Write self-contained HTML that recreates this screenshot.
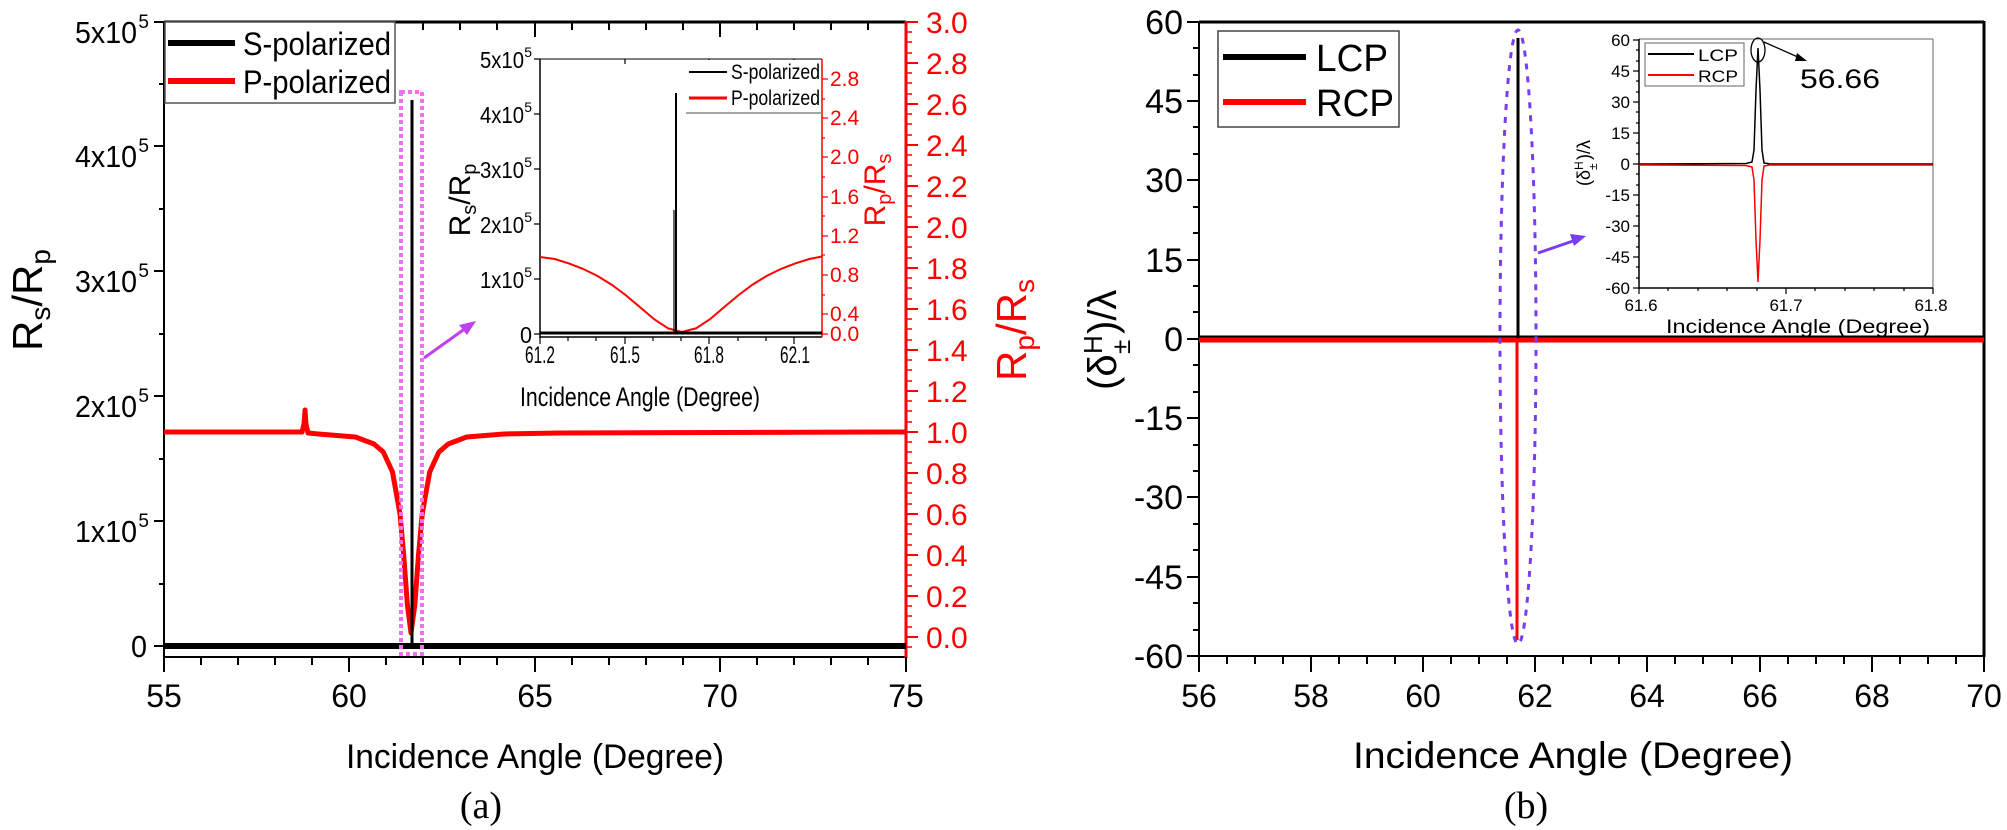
<!DOCTYPE html>
<html><head><meta charset="utf-8"><style>
html,body{margin:0;padding:0;background:#fff}
svg{display:block}
text{font-family:"Liberation Sans",Arial,sans-serif}
</style></head><body>
<svg width="2007" height="830" viewBox="0 0 2007 830" xmlns="http://www.w3.org/2000/svg">
<rect width="2007" height="830" fill="#fff"/>

<!-- ================= LEFT PANEL (a) ================= -->
<line x1="164" y1="22" x2="906" y2="22" stroke="#000" stroke-width="3"/>
<line x1="164" y1="657" x2="906" y2="657" stroke="#000" stroke-width="2"/>
<line x1="164" y1="21" x2="164" y2="658" stroke="#000" stroke-width="2"/>
<line x1="906" y1="21" x2="906" y2="658" stroke="#f00" stroke-width="3"/>
<g stroke="#000" stroke-width="2">
<line x1="164" y1="657" x2="164" y2="672"/><line x1="349" y1="657" x2="349" y2="672"/><line x1="535" y1="657" x2="535" y2="672"/><line x1="720" y1="657" x2="720" y2="672"/><line x1="906" y1="657" x2="906" y2="672"/>
<line x1="201" y1="657" x2="201" y2="665"/><line x1="238" y1="657" x2="238" y2="665"/><line x1="275" y1="657" x2="275" y2="665"/><line x1="312" y1="657" x2="312" y2="665"/>
<line x1="386" y1="657" x2="386" y2="665"/><line x1="423" y1="657" x2="423" y2="665"/><line x1="460" y1="657" x2="460" y2="665"/><line x1="497" y1="657" x2="497" y2="665"/>
<line x1="572" y1="657" x2="572" y2="665"/><line x1="609" y1="657" x2="609" y2="665"/><line x1="646" y1="657" x2="646" y2="665"/><line x1="683" y1="657" x2="683" y2="665"/>
<line x1="757" y1="657" x2="757" y2="665"/><line x1="794" y1="657" x2="794" y2="665"/><line x1="831" y1="657" x2="831" y2="665"/><line x1="868" y1="657" x2="868" y2="665"/>
<line x1="349" y1="22" x2="349" y2="37"/><line x1="535" y1="22" x2="535" y2="37"/><line x1="720" y1="22" x2="720" y2="37"/>
<line x1="201" y1="22" x2="201" y2="30"/><line x1="238" y1="22" x2="238" y2="30"/><line x1="275" y1="22" x2="275" y2="30"/><line x1="312" y1="22" x2="312" y2="30"/>
<line x1="386" y1="22" x2="386" y2="30"/><line x1="423" y1="22" x2="423" y2="30"/><line x1="460" y1="22" x2="460" y2="30"/><line x1="497" y1="22" x2="497" y2="30"/>
<line x1="572" y1="22" x2="572" y2="30"/><line x1="609" y1="22" x2="609" y2="30"/><line x1="646" y1="22" x2="646" y2="30"/><line x1="683" y1="22" x2="683" y2="30"/>
<line x1="757" y1="22" x2="757" y2="30"/><line x1="794" y1="22" x2="794" y2="30"/><line x1="831" y1="22" x2="831" y2="30"/><line x1="868" y1="22" x2="868" y2="30"/>
<line x1="154" y1="22" x2="164" y2="22"/><line x1="154" y1="146" x2="164" y2="146"/><line x1="154" y1="271" x2="164" y2="271"/><line x1="154" y1="396" x2="164" y2="396"/><line x1="154" y1="521" x2="164" y2="521"/><line x1="154" y1="646" x2="164" y2="646"/>
<line x1="159" y1="84" x2="164" y2="84"/><line x1="159" y1="209" x2="164" y2="209"/><line x1="159" y1="334" x2="164" y2="334"/><line x1="159" y1="459" x2="164" y2="459"/><line x1="159" y1="584" x2="164" y2="584"/>
</g>
<g stroke="#f00" stroke-width="2">
<line x1="906" y1="22" x2="918" y2="22"/><line x1="906" y1="63" x2="918" y2="63"/><line x1="906" y1="104" x2="918" y2="104"/><line x1="906" y1="145" x2="918" y2="145"/><line x1="906" y1="186" x2="918" y2="186"/><line x1="906" y1="227" x2="918" y2="227"/><line x1="906" y1="268" x2="918" y2="268"/><line x1="906" y1="309" x2="918" y2="309"/><line x1="906" y1="350" x2="918" y2="350"/><line x1="906" y1="391" x2="918" y2="391"/><line x1="906" y1="432" x2="918" y2="432"/><line x1="906" y1="473" x2="918" y2="473"/><line x1="906" y1="514" x2="918" y2="514"/><line x1="906" y1="555" x2="918" y2="555"/><line x1="906" y1="596" x2="918" y2="596"/><line x1="906" y1="637" x2="918" y2="637"/>
</g>
<path d="M906 32h6M906 42h6M906 53h6M906 73h6M906 83h6M906 94h6M906 114h6M906 124h6M906 135h6M906 155h6M906 165h6M906 176h6M906 196h6M906 206h6M906 217h6M906 237h6M906 247h6M906 258h6M906 278h6M906 288h6M906 299h6M906 319h6M906 329h6M906 340h6M906 360h6M906 370h6M906 381h6M906 401h6M906 411h6M906 422h6M906 442h6M906 452h6M906 463h6M906 483h6M906 493h6M906 504h6M906 524h6M906 534h6M906 545h6M906 565h6M906 575h6M906 586h6M906 606h6M906 616h6M906 627h6M906 647h6" stroke="#f00" stroke-width="1.5"/>

<g font-size="31" fill="#000" text-anchor="end">
<text x="137" y="43" textLength="62" lengthAdjust="spacingAndGlyphs">5x10</text><text x="149" y="28" font-size="19">5</text>
<text x="137" y="167" textLength="62" lengthAdjust="spacingAndGlyphs">4x10</text><text x="149" y="152" font-size="19">5</text>
<text x="137" y="292" textLength="62" lengthAdjust="spacingAndGlyphs">3x10</text><text x="149" y="277" font-size="19">5</text>
<text x="137" y="417" textLength="62" lengthAdjust="spacingAndGlyphs">2x10</text><text x="149" y="402" font-size="19">5</text>
<text x="137" y="542" textLength="62" lengthAdjust="spacingAndGlyphs">1x10</text><text x="149" y="527" font-size="19">5</text>
<text x="147" y="657" textLength="16" lengthAdjust="spacingAndGlyphs">0</text>
</g>
<g font-size="32" fill="#000" text-anchor="middle">
<text x="164" y="707">55</text><text x="349" y="707">60</text><text x="535" y="707">65</text><text x="720" y="707">70</text><text x="906" y="707">75</text>
</g>
<text x="535" y="768" font-size="34" text-anchor="middle" textLength="378" lengthAdjust="spacingAndGlyphs">Incidence Angle (Degree)</text>
<text x="481" y="818" font-size="38" text-anchor="middle" style="font-family:'Liberation Serif',serif">(a)</text>
<text transform="translate(42,300) rotate(-90)" font-size="42" text-anchor="middle">R<tspan font-size="28" dy="8">s</tspan><tspan dy="-8">/R</tspan><tspan font-size="28" dy="8">p</tspan></text>
<g font-size="30" fill="#f00">
<text x="926" y="33">3.0</text><text x="926" y="74">2.8</text><text x="926" y="115">2.6</text><text x="926" y="156">2.4</text><text x="926" y="197">2.2</text><text x="926" y="238">2.0</text><text x="926" y="279">1.8</text><text x="926" y="320">1.6</text><text x="926" y="361">1.4</text><text x="926" y="402">1.2</text><text x="926" y="443">1.0</text><text x="926" y="484">0.8</text><text x="926" y="525">0.6</text><text x="926" y="566">0.4</text><text x="926" y="607">0.2</text><text x="926" y="648">0.0</text>
</g>
<text transform="translate(1026,330) rotate(-90)" font-size="42" fill="#f00" text-anchor="middle">R<tspan font-size="28" dy="8">p</tspan><tspan dy="-8">/R</tspan><tspan font-size="28" dy="8">s</tspan></text>

<polyline fill="none" stroke="#f00" stroke-width="5" stroke-linejoin="round" points="164,432 302,432 304,424 305,410 306,424 308,433 318.3,434 355.5,437 374,444 383.3,452 392.5,472 400,514 403.7,555 407.4,605 411,633 414.8,605 418.5,555 422.2,514 429.7,472 438.9,452 448.2,444 466.7,437 503.9,434 559.5,433 906,432"/>
<line x1="164" y1="646" x2="906" y2="646" stroke="#000" stroke-width="6"/>
<line x1="412" y1="646" x2="412" y2="100" stroke="#000" stroke-width="3"/>
<rect x="401" y="92" width="21" height="562" fill="none" stroke="#f070f0" stroke-width="4" stroke-dasharray="4,3"/>
<line x1="424" y1="358" x2="466" y2="328" stroke="#c040f0" stroke-width="3"/>
<polygon points="476,321 459,325 467,335" fill="#c040f0"/>

<rect x="165" y="22" width="230" height="81" fill="#fff" stroke="#555" stroke-width="1.5"/>
<line x1="168" y1="43" x2="235" y2="43" stroke="#000" stroke-width="6"/>
<line x1="168" y1="81" x2="235" y2="81" stroke="#f00" stroke-width="6"/>
<text x="243" y="55" font-size="32" textLength="148" lengthAdjust="spacingAndGlyphs">S-polarized</text>
<text x="243" y="93" font-size="32" textLength="148" lengthAdjust="spacingAndGlyphs">P-polarized</text>

<!-- left inset -->
<rect x="540" y="59" width="282" height="278" fill="#fff"/>
<line x1="540" y1="59" x2="822" y2="59" stroke="#000" stroke-width="1"/>
<line x1="540" y1="59" x2="540" y2="338" stroke="#000" stroke-width="1.5"/>
<line x1="540" y1="337" x2="822" y2="337" stroke="#000" stroke-width="1.5"/>
<line x1="822" y1="59" x2="822" y2="337" stroke="#f00" stroke-width="1.5"/>
<g stroke="#000" stroke-width="1.2">
<path d="M540 337v7M625 337v7M709 337v7M794 337v7M568 337v4M596 337v4M653 337v4M681 337v4M738 337v4M766 337v4M540 59h-6M540 114h-6M540 169h-6M540 224h-6M540 279h-6M540 334h-6M625 59v5M709 59v5M794 59v5"/>
</g>
<g stroke="#f00" stroke-width="1.2">
<path d="M822 79h6M822 118h6M822 157h6M822 197h6M822 236h6M822 275h6M822 314h6M822 334h6M822 99h3M822 138h3M822 177h3M822 216h3M822 255h3M822 295h3"/>
</g>
<g font-size="23" text-anchor="end">
<text x="524" y="68" textLength="44" lengthAdjust="spacingAndGlyphs">5x10</text><text x="532" y="57" font-size="14">5</text>
<text x="524" y="123" textLength="44" lengthAdjust="spacingAndGlyphs">4x10</text><text x="532" y="112" font-size="14">5</text>
<text x="524" y="178" textLength="44" lengthAdjust="spacingAndGlyphs">3x10</text><text x="532" y="167" font-size="14">5</text>
<text x="524" y="233" textLength="44" lengthAdjust="spacingAndGlyphs">2x10</text><text x="532" y="222" font-size="14">5</text>
<text x="524" y="288" textLength="44" lengthAdjust="spacingAndGlyphs">1x10</text><text x="532" y="277" font-size="14">5</text>
<text x="532" y="343" textLength="12" lengthAdjust="spacingAndGlyphs">0</text>
</g>
<g font-size="24" text-anchor="middle">
<text x="540" y="363" textLength="30" lengthAdjust="spacingAndGlyphs">61.2</text><text x="625" y="363" textLength="30" lengthAdjust="spacingAndGlyphs">61.5</text><text x="709" y="363" textLength="30" lengthAdjust="spacingAndGlyphs">61.8</text><text x="795" y="363" textLength="30" lengthAdjust="spacingAndGlyphs">62.1</text>
</g>
<text x="640" y="406" font-size="27" text-anchor="middle" textLength="240" lengthAdjust="spacingAndGlyphs">Incidence Angle (Degree)</text>
<text transform="translate(470,200) rotate(-90)" font-size="30" text-anchor="middle">R<tspan font-size="20" dy="6">s</tspan><tspan dy="-6">/R</tspan><tspan font-size="20" dy="6">p</tspan></text>
<g font-size="21" fill="#f00">
<text x="830" y="86">2.8</text><text x="830" y="125">2.4</text><text x="830" y="164">2.0</text><text x="830" y="204">1.6</text><text x="830" y="243">1.2</text><text x="830" y="282">0.8</text><text x="830" y="321">0.4</text><text x="830" y="341">0.0</text>
</g>
<text transform="translate(885,190) rotate(-90)" font-size="30" fill="#f00" text-anchor="middle">R<tspan font-size="20" dy="6">p</tspan><tspan dy="-6">/R</tspan><tspan font-size="20" dy="6">s</tspan></text>
<polyline fill="none" stroke="#f00" stroke-width="2" points="540,257 554.8,259 568.9,263.4 583.1,268.9 597.3,275.9 611.5,284.6 625.7,295.1 639.8,307 654,319.1 668.2,328.4 681.7,332 695.9,328.4 710.1,319.1 724.3,307 738.5,295.1 752.6,284.6 766.8,275.9 781,268.9 795.2,263.4 809.4,259 822,256.5"/>
<line x1="540" y1="333" x2="822" y2="333" stroke="#000" stroke-width="3"/>
<line x1="676" y1="333" x2="676" y2="93" stroke="#000" stroke-width="2"/>
<line x1="674" y1="333" x2="674" y2="210" stroke="#000" stroke-width="1.2"/>
<rect x="686" y="60" width="135" height="53" fill="#fff"/>
<line x1="686" y1="113" x2="821" y2="113" stroke="#888" stroke-width="1.5"/>
<line x1="689" y1="72" x2="727" y2="72" stroke="#000" stroke-width="2"/>
<line x1="689" y1="98" x2="727" y2="98" stroke="#f00" stroke-width="3"/>
<text x="731" y="79" font-size="21" textLength="89" lengthAdjust="spacingAndGlyphs">S-polarized</text>
<text x="731" y="105" font-size="21" textLength="89" lengthAdjust="spacingAndGlyphs">P-polarized</text>

<!-- ================= RIGHT PANEL (b) ================= -->
<line x1="1199" y1="22" x2="1984" y2="22" stroke="#000" stroke-width="3"/>
<line x1="1199" y1="656" x2="1984" y2="656" stroke="#000" stroke-width="2"/>
<line x1="1199" y1="21" x2="1199" y2="657" stroke="#000" stroke-width="2"/>
<line x1="1984" y1="21" x2="1984" y2="657" stroke="#000" stroke-width="3"/>
<g stroke="#000" stroke-width="2">
<path d="M1199 656v16M1311 656v16M1423 656v16M1535 656v16M1647 656v16M1760 656v16M1872 656v16M1984 656v16"/>
<path d="M1227 656v8M1255 656v8M1283 656v8M1339 656v8M1367 656v8M1395 656v8M1451 656v8M1479 656v8M1507 656v8M1563 656v8M1591 656v8M1619 656v8M1675 656v8M1703 656v8M1732 656v8M1788 656v8M1816 656v8M1844 656v8M1900 656v8M1928 656v8M1956 656v8"/>
<path d="M1199 22h-12M1199 101h-12M1199 180h-12M1199 260h-12M1199 339h-12M1199 418h-12M1199 497h-12M1199 577h-12M1199 656h-12"/>
<path d="M1199 48h-6M1199 75h-6M1199 127h-6M1199 154h-6M1199 207h-6M1199 233h-6M1199 286h-6M1199 312h-6M1199 365h-6M1199 392h-6M1199 445h-6M1199 471h-6M1199 524h-6M1199 550h-6M1199 603h-6M1199 630h-6"/>
</g>
<g font-size="34" text-anchor="end">
<text x="1183" y="34">60</text><text x="1183" y="113">45</text><text x="1183" y="192">30</text><text x="1183" y="272">15</text><text x="1183" y="351">0</text><text x="1183" y="430">-15</text><text x="1183" y="509">-30</text><text x="1183" y="589">-45</text><text x="1183" y="668">-60</text>
</g>
<g font-size="32" text-anchor="middle">
<text x="1199" y="707">56</text><text x="1311" y="707">58</text><text x="1423" y="707">60</text><text x="1535" y="707">62</text><text x="1647" y="707">64</text><text x="1760" y="707">66</text><text x="1872" y="707">68</text><text x="1984" y="707">70</text>
</g>
<text x="1573" y="768" font-size="37" text-anchor="middle" textLength="440" lengthAdjust="spacingAndGlyphs">Incidence Angle (Degree)</text>
<text x="1526" y="818" font-size="38" text-anchor="middle" style="font-family:'Liberation Serif',serif">(b)</text>
<g transform="translate(1116,332) rotate(-90)">
<text x="-58" y="0" font-size="40">(δ</text>
<text x="-22" y="-14" font-size="26">H</text>
<text x="-22" y="14" font-size="26">±</text>
<text x="-2" y="0" font-size="40">)/λ</text>
</g>

<line x1="1199" y1="337" x2="1984" y2="337" stroke="#000" stroke-width="3"/>
<line x1="1199" y1="340" x2="1984" y2="340" stroke="#f00" stroke-width="5"/>
<line x1="1518" y1="338" x2="1518" y2="38" stroke="#000" stroke-width="3"/>
<line x1="1517" y1="340" x2="1517" y2="640" stroke="#f00" stroke-width="3"/>
<ellipse cx="1518" cy="337" rx="18" ry="307" fill="none" stroke="#7a3cf0" stroke-width="3" stroke-dasharray="6,7"/>
<line x1="1538" y1="253" x2="1576" y2="240" stroke="#7a3cf0" stroke-width="3"/>
<polygon points="1586,236 1570,234 1574,246" fill="#7a3cf0"/>

<rect x="1218" y="31" width="181" height="96" fill="#fff" stroke="#444" stroke-width="1.5"/>
<line x1="1223" y1="57" x2="1306" y2="57" stroke="#000" stroke-width="6"/>
<line x1="1223" y1="102" x2="1306" y2="102" stroke="#f00" stroke-width="6"/>
<text x="1316" y="71" font-size="38" textLength="72" lengthAdjust="spacingAndGlyphs">LCP</text>
<text x="1316" y="116" font-size="38" textLength="78" lengthAdjust="spacingAndGlyphs">RCP</text>

<!-- right inset -->
<rect x="1639" y="39" width="294" height="249" fill="#fff"/>
<line x1="1639" y1="39" x2="1933" y2="39" stroke="#666" stroke-width="1"/>
<line x1="1933" y1="39" x2="1933" y2="288" stroke="#666" stroke-width="1"/>
<line x1="1639" y1="39" x2="1639" y2="288" stroke="#000" stroke-width="1.5"/>
<line x1="1639" y1="288" x2="1933" y2="288" stroke="#000" stroke-width="1.5"/>
<g stroke="#000" stroke-width="1.2">
<path d="M1639 40h-6M1639 71h-6M1639 102h-6M1639 133h-6M1639 164h-6M1639 195h-6M1639 226h-6M1639 257h-6M1639 288h-6"/>
<path d="M1639 50h-3M1639 61h-3M1639 81h-3M1639 92h-3M1639 112h-3M1639 123h-3M1639 143h-3M1639 154h-3M1639 174h-3M1639 185h-3M1639 205h-3M1639 216h-3M1639 236h-3M1639 247h-3M1639 267h-3M1639 278h-3"/>
<path d="M1639 288v6M1786 288v6M1933 288v6M1668 288v3M1698 288v3M1727 288v3M1757 288v3M1815 288v3M1845 288v3M1874 288v3M1904 288v3"/>
</g>
<g font-size="17" text-anchor="end">
<text x="1630" y="46">60</text><text x="1630" y="77">45</text><text x="1630" y="108">30</text><text x="1630" y="139">15</text><text x="1630" y="170">0</text><text x="1630" y="201">-15</text><text x="1630" y="232">-30</text><text x="1630" y="263">-45</text><text x="1630" y="294">-60</text>
</g>
<g font-size="17" text-anchor="middle">
<text x="1641" y="311">61.6</text><text x="1786" y="311">61.7</text><text x="1931" y="311">61.8</text>
</g>
<text x="1798" y="333" font-size="19" text-anchor="middle" textLength="264" lengthAdjust="spacingAndGlyphs">Incidence Angle (Degree)</text>
<g transform="translate(1590,160) rotate(-90)">
<text x="-26" y="0" font-size="18">(δ</text>
<text x="-10" y="-7" font-size="12">H</text>
<text x="-10" y="7" font-size="12">±</text>
<text x="0" y="0" font-size="18">)/λ</text>
</g>
<polyline fill="none" stroke="#000" stroke-width="1.5" points="1639,164 1746,163.5 1752,162 1754,150 1756,90 1758,48 1760,90 1762,150 1764,163 1770,164 1933,164"/>
<polyline fill="none" stroke="#f00" stroke-width="1.5" points="1639,165 1746,165.5 1752,167 1754,180 1756,240 1758,282 1760,240 1762,180 1764,166 1770,165 1933,165"/>
<ellipse cx="1758" cy="50" rx="7" ry="12" fill="none" stroke="#000" stroke-width="1.3"/>
<line x1="1764" y1="42" x2="1800" y2="58" stroke="#000" stroke-width="1.3"/>
<polygon points="1807,61 1797,53 1795,61" fill="#000"/>
<text x="1800" y="88" font-size="27" textLength="80" lengthAdjust="spacingAndGlyphs">56.66</text>
<rect x="1645" y="43" width="99" height="43" fill="#fff" stroke="#666" stroke-width="1"/>
<line x1="1648" y1="54" x2="1694" y2="54" stroke="#000" stroke-width="2"/>
<line x1="1648" y1="75" x2="1694" y2="75" stroke="#f00" stroke-width="2"/>
<text x="1698" y="61" font-size="17" textLength="40" lengthAdjust="spacingAndGlyphs">LCP</text>
<text x="1698" y="82" font-size="17" textLength="40" lengthAdjust="spacingAndGlyphs">RCP</text>
</svg>
</body></html>
